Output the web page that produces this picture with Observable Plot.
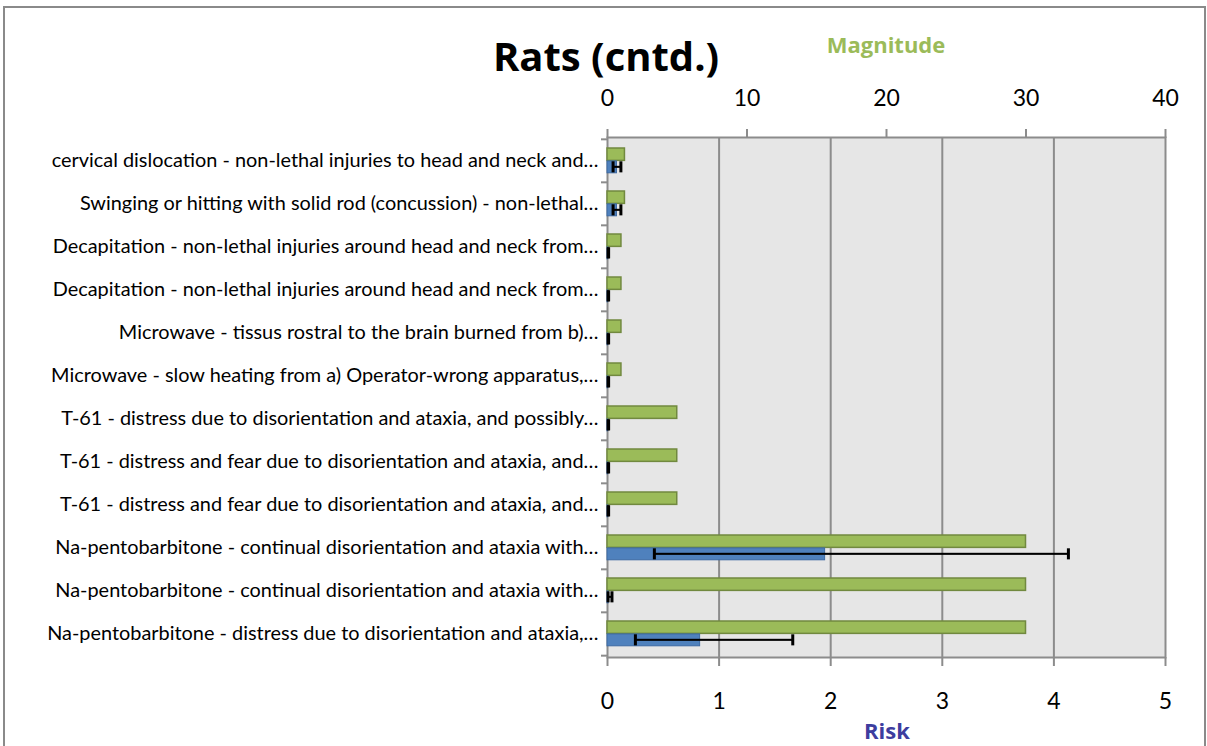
<!DOCTYPE html>
<html>
<head>
<meta charset="utf-8">
<script src="https://cdn.jsdelivr.net/npm/d3@7"></script>
<script src="https://cdn.jsdelivr.net/npm/@observablehq/plot@0.6"></script>
<style>
  html, body { margin: 0; padding: 0; background: #fff; }
  #wrap { position: relative; width: 1207px; height: 746px; overflow: hidden; }
  #border { position: absolute; left: 3px; top: 6px; width: 1203px; height: 800px; box-sizing: border-box; border: 2px solid #8a8a8a; }
  #chart { position: absolute; left: 0; top: 0; }
  .lbl { position: absolute; white-space: nowrap; font-family: "Open Sans", sans-serif; font-weight: bold; transform: translateX(-50%); line-height: 1; }
  #title { left: 606px; top: 36px; font-size: 40px; color: #000; }
  #mag { left: 886px; top: 33px; font-size: 22px; color: #9bbb59; }
  #risk { left: 887px; top: 719px; font-size: 22px; color: #3d3d9e; }
</style>
</head>
<body>
<div id="wrap">
  <div id="border"></div>
  <div id="chart"></div>
  <div id="title" class="lbl">Rats (cntd.)</div>
  <div id="mag" class="lbl">Magnitude</div>
  <div id="risk" class="lbl">Risk</div>
</div>
<script>
// Categories, top to bottom
const labels = [
  "cervical dislocation - non-lethal injuries to head and neck and…",
  "Swinging or hitting with solid rod (concussion) - non-lethal…",
  "Decapitation - non-lethal injuries around head and neck from…",
  "Decapitation - non-lethal injuries around head and neck from…",
  "Microwave - tissus rostral to the brain burned from b)…",
  "Microwave - slow heating from a) Operator-wrong apparatus,…",
  "T-61 - distress due to disorientation and ataxia, and possibly…",
  "T-61 - distress and fear due to disorientation and ataxia, and…",
  "T-61 - distress and fear due to disorientation and ataxia, and…",
  "Na-pentobarbitone - continual disorientation and ataxia with…",
  "Na-pentobarbitone - continual disorientation and ataxia with…",
  "Na-pentobarbitone - distress due to disorientation and ataxia,…"
];
// Magnitude (top axis, 0-40)
const magnitude = [1.25, 1.25, 1, 1, 1, 1, 5, 5, 5, 30, 30, 30];
// Risk (bottom axis, 0-5) with error bar bounds
const risk     = [0.085, 0.085, 0.005, 0.005, 0.005, 0.005, 0.005, 0.005, 0.005, 1.95, 0.01, 0.83];
const riskLow  = [0.05, 0.05, 0.005, 0.005, 0.005, 0.005, 0.005, 0.005, 0.005, 0.42, 0.005, 0.25];
const riskHigh = [0.12, 0.12, 0.01, 0.01, 0.01, 0.01, 0.01, 0.01, 0.01, 4.13, 0.04, 1.66];
const riskTicks = [0, 1, 2, 3, 4, 5];
const magTicks = [0, 10, 20, 30, 40];
const magMax = 40, riskMax = 5;
const ratio = magMax / riskMax;

const rows = labels.map((label, i) => ({
  i, label, mag: magnitude[i], risk: risk[i], lo: riskLow[i], hi: riskHigh[i]
}));
const idx = rows.map(d => d.i);

const W = 1207, H = 746;
const mT = 137, mB = 89, mL = 607, mR = 42;
const bw = (H - mT - mB) / labels.length;
const plotW = W - mL - mR;
const grid = "#8c8c8c";

const chart = Plot.plot({
  width: W,
  height: H,
  marginTop: mT,
  marginBottom: mB,
  marginLeft: mL,
  marginRight: mR,
  style: {fontFamily: "Lato, sans-serif", background: "transparent", color: "#000"},
  x: {domain: [0, riskMax], axis: null},
  y: {type: "band", domain: idx, padding: 0, axis: null},
  marks: [
    Plot.frame({fill: "#e6e6e6", stroke: null}),
    Plot.gridX(riskTicks.slice(1, -1), {stroke: grid, strokeWidth: 2, strokeOpacity: 1}),
    Plot.frame({stroke: grid, strokeWidth: 2}),
    // Magnitude bars (mapped onto the shared x scale)
    Plot.barX(rows, {x: d => d.mag / ratio, y: "i", fill: "#9bbb59", stroke: "#71893f", strokeWidth: 1.5,
      insetTop: 9, insetBottom: bw - 21.7}),
    // Risk bars
    Plot.barX(rows, {x: "risk", y: "i", fill: "#4f81bd", stroke: "#3d6aa3", strokeWidth: 1,
      insetTop: 21.9, insetBottom: 9.2}),
    // Error bars
    Plot.barX(rows, {x1: "lo", x2: "hi", y: "i", fill: "#000", insetTop: 26.8, insetBottom: bw - 29.2}),
    Plot.tickX(rows, {x: "lo", y: "i", stroke: "#000", strokeWidth: 3, insetTop: 22.3, insetBottom: bw - 33.7}),
    Plot.tickX(rows, {x: "hi", y: "i", stroke: "#000", strokeWidth: 3, insetTop: 22.3, insetBottom: bw - 33.7}),
    // Category separator ticks on the left axis
    Plot.tickY(idx, {y: d => d, dy: -bw / 2, stroke: grid, strokeWidth: 2, insetLeft: -6, insetRight: plotW}),
    Plot.tickY(idx.slice(-1), {y: d => d, dy: bw / 2, stroke: grid, strokeWidth: 2, insetLeft: -6, insetRight: plotW}),
    // Axes
    Plot.axisY({tickSize: 0, tickPadding: 9, tickFormat: i => labels[i], fontSize: 19.9, label: null}),
    Plot.axisX(riskTicks, {anchor: "bottom", tickSize: 9, tickPadding: 26, stroke: grid, strokeWidth: 2, fill: "#000",
      fontSize: 23, label: null, tickFormat: d => String(d)}),
    Plot.axisX(magTicks.map(v => v / ratio), {anchor: "top", tickSize: 9, tickPadding: 23, stroke: grid, strokeWidth: 2, fill: "#000",
      fontSize: 23, label: null, tickFormat: d => String(Math.round(d * ratio))})
  ]
});
document.getElementById("chart").appendChild(chart);
</script>
</body>
</html>
